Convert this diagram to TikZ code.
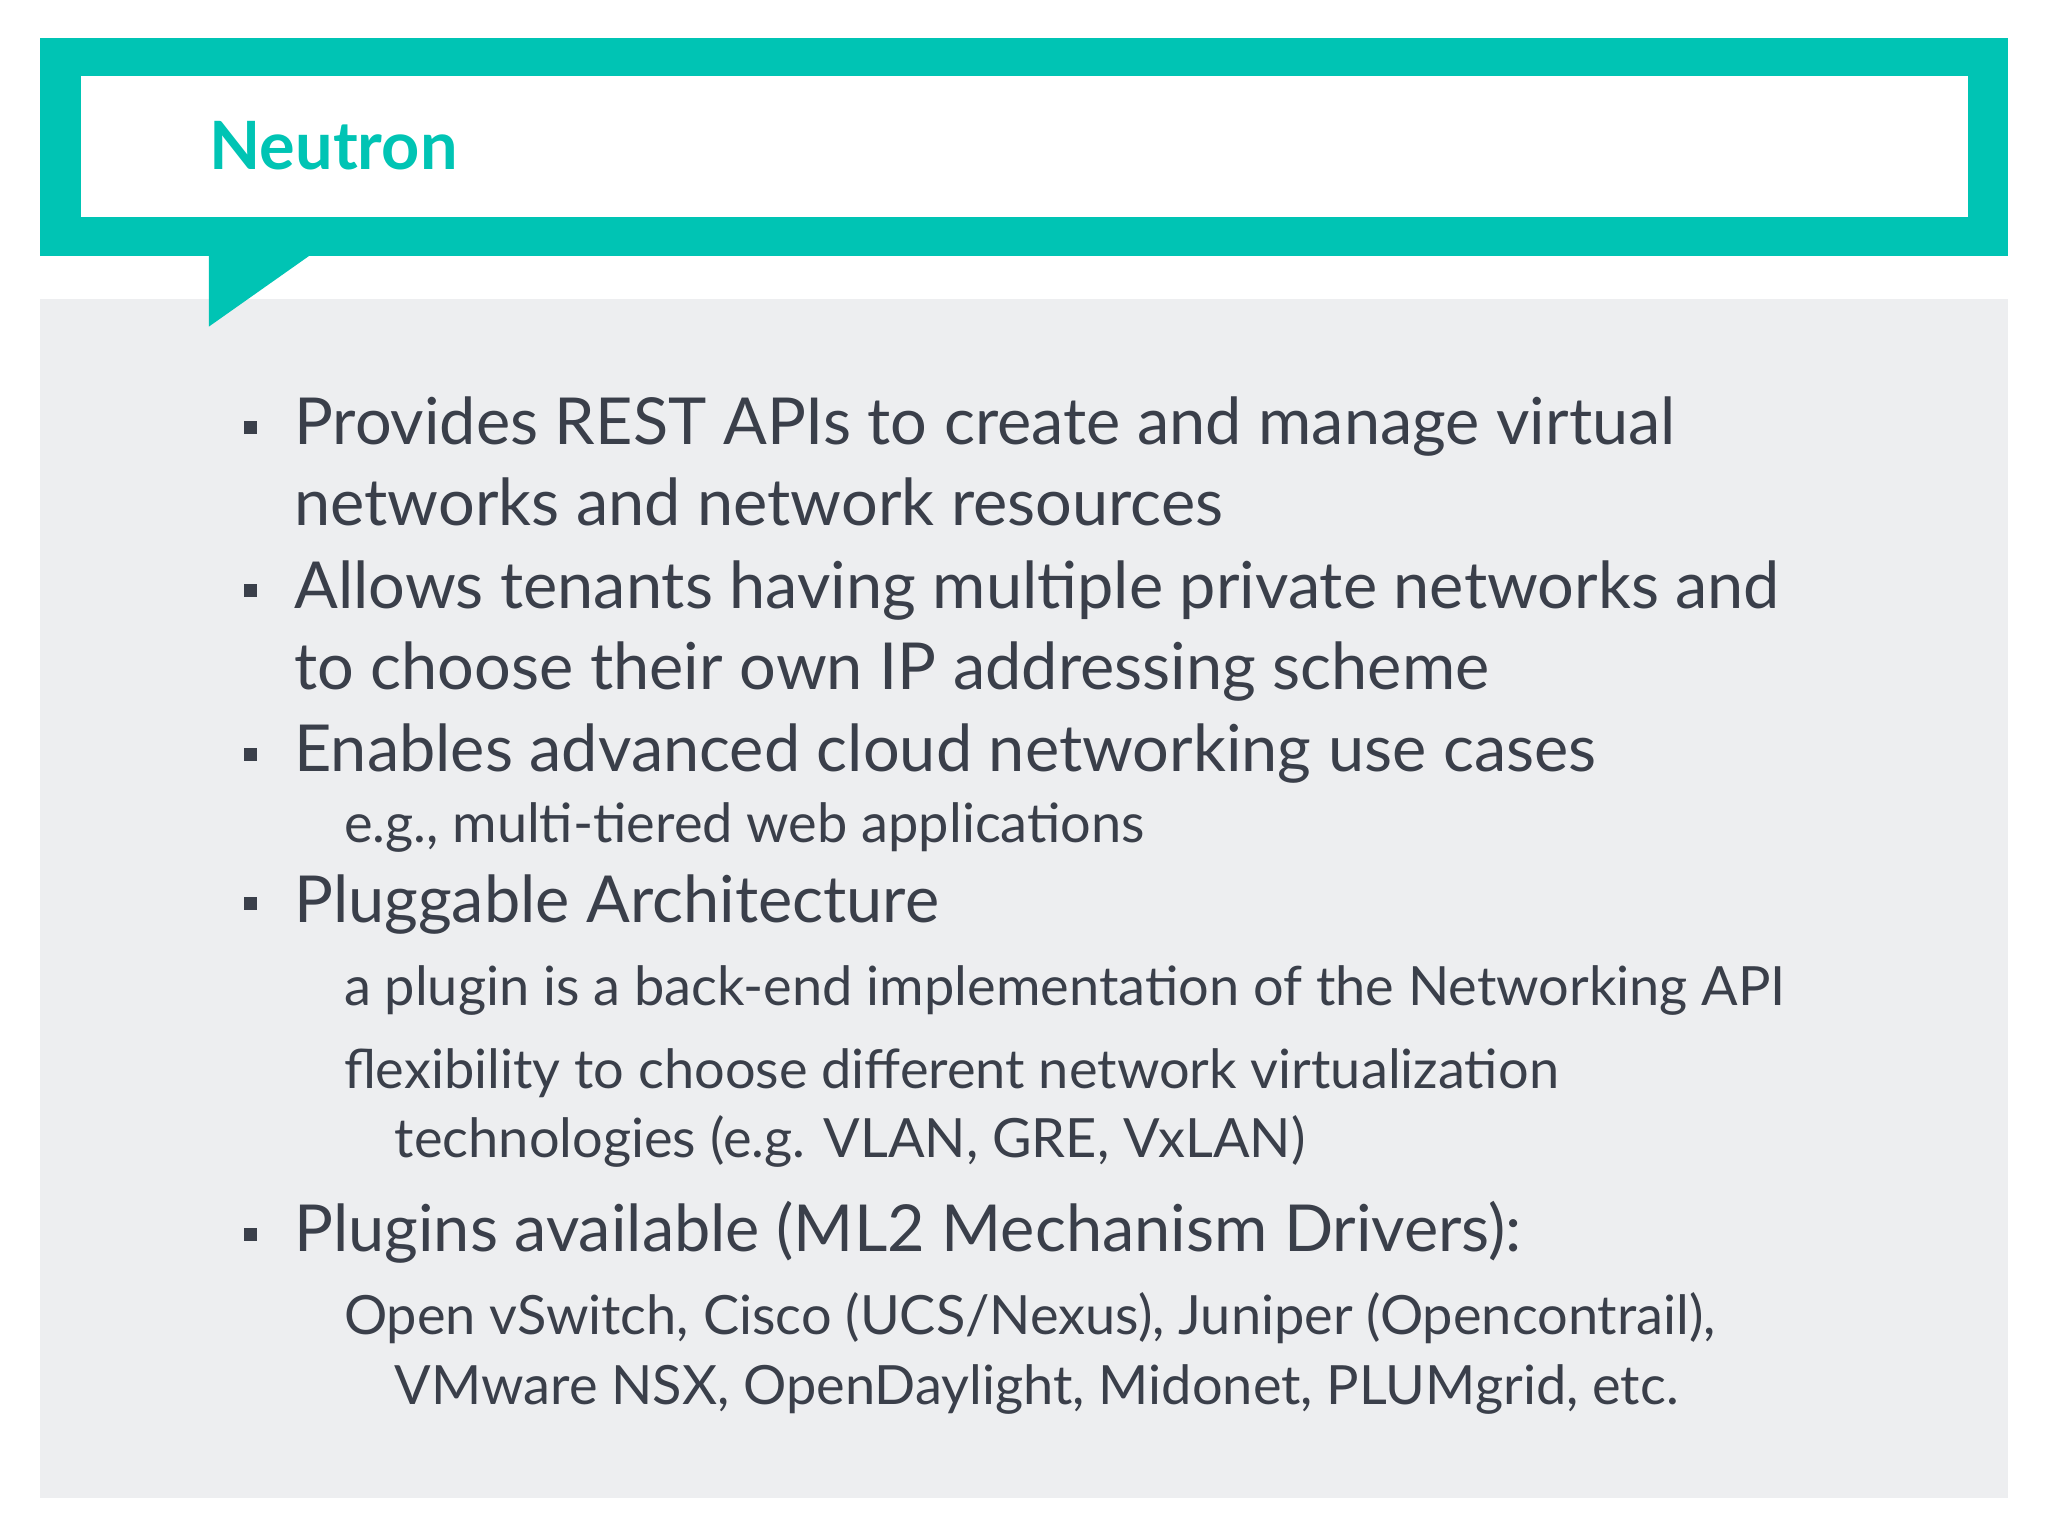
\documentclass[tikz,border=0pt]{standalone}
\usepackage{fontspec}
\setmainfont{Lato}
\definecolor{teal1}{HTML}{00C4B4}
\definecolor{graybg}{HTML}{EDEEF0}
\definecolor{txt}{HTML}{3A3F4A}
\begin{document}
\begin{tikzpicture}[x=0.5bp,y=-0.5bp,
  main/.style={anchor=base west,inner sep=0,text=txt,font=\fontsize{24.9}{29}\selectfont},
  sub/.style={anchor=base west,inner sep=0,text=txt,font=\fontsize{20.8}{24}\selectfont},
  bul/.style={fill=txt}]
\useasboundingbox (0,0) rectangle (1568,1176);
\fill[white] (0,0) rectangle (1568,1176);
\fill[graybg] (31,229) rectangle (1537,1147);
\fill[teal1] (31,29) rectangle (1537,196);
\fill[teal1] (160,195) -- (238,195) -- (160,250) -- cycle;
\fill[white] (62,58) rectangle (1507,166);
\node[anchor=base west,inner sep=0,text=teal1,font=\bfseries\fontsize{25.6}{30}\selectfont] (title) at (160,130) {Neutron};
\foreach \y in {327,452,578,692,945} \fill[bul] (187,\y-5) rectangle (197,\y+5);
\node[main] (a1) at (225,340) {Provides REST APIs to create and manage virtual};
\node[main] (a2) at (225,402) {networks and network resources};
\node[main] (b1) at (225,466) {Allows tenants having multiple private networks and};
\node[main] (b2) at (225,528) {to choose their own IP addressing scheme};
\node[main] (c1) at (225,591) {Enables advanced cloud networking use cases};
\node[sub] (c2) at (263,645) {e.g., multi-tiered web applications};
\node[main] (d1) at (225,706) {Pluggable Architecture};
\node[sub] (d2) at (263,770) {a plugin is a back-end implementation of the Networking API};
\node[sub] (d3) at (263,833) {flexibility to choose different network virtualization};
\node[sub] (d4) at (302,886) {technologies (e.g. VLAN, GRE, VxLAN)};
\node[main] (e1) at (225,958) {Plugins available (ML2 Mechanism Drivers):};
\node[sub] (e2) at (263,1022) {Open vSwitch, Cisco (UCS/Nexus), Juniper (Opencontrail),};
\node[sub] (e3) at (302,1075) {VMware NSX, OpenDaylight, Midonet, PLUMgrid, etc.};
\end{tikzpicture}
\end{document}
